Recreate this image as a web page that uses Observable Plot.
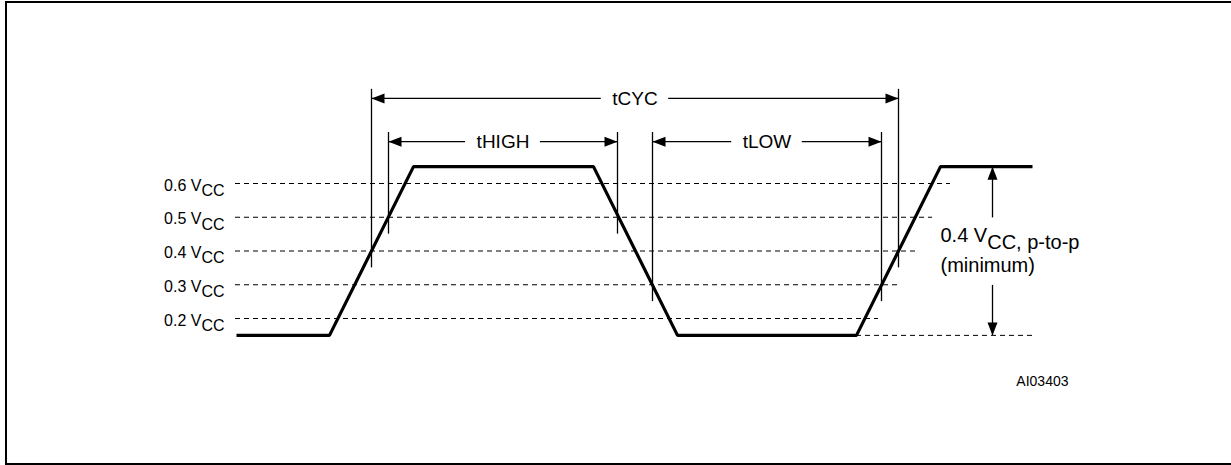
<!DOCTYPE html>
<html><head><meta charset="utf-8">
<script src="https://cdn.jsdelivr.net/npm/d3@7"></script>
<script src="https://cdn.jsdelivr.net/npm/@observablehq/plot@0.6"></script>
<style>
html,body{margin:0;padding:0;background:#fff;overflow:hidden;}
#wrap{position:relative;width:1231px;height:465px;overflow:hidden;}
#frame{position:absolute;left:5px;top:1px;width:1300px;height:460px;border:2px solid #000;}
#chart{position:absolute;left:0;top:0;}
text{font-family:"Liberation Sans",Arial,sans-serif;}
</style></head><body>
<div id="wrap"><div id="frame"></div><div id="chart"></div></div>
<script>
// ---- Data (time in drawing units, level as fraction of VCC) ----
const waveT = [236, 329, 413, 593, 677, 856, 940, 1032];
const waveV = [0.15, 0.15, 0.65, 0.65, 0.15, 0.15, 0.65, 0.65];

const levelV = [0.6, 0.5, 0.4, 0.3, 0.2];
const levelLabels = ["0.6 V|CC", "0.5 V|CC", "0.4 V|CC", "0.3 V|CC", "0.2 V|CC"];
const levelStartT = [235, 235, 235, 235, 235];
const levelEndT = [950, 932, 915, 897, 878];

const lowExtT = [856, 1032];
const lowV = 0.15;
const highV = 0.65;

const timingNames = ["tCYC", "tHIGH", "tLOW"];
const timingStartT = [371, 388, 652];
const timingEndT = [898, 617, 881];
const timingRefV = [0.4, 0.5, 0.3];
const timingRow = [0, 1, 1];

const swingLabel = "0.4 V|CC, p-to-p";
const swingNote = "(minimum)";
const figureId = "AI03403";

// ---- Layout (annotation placement) ----
const rowTopV = [0.879, 0.751];
const arrowDropV = 0.027;
const lineBelowV = 0.05;
const swingT = 992;
const swingGap = [0.498, 0.298];
const timingFontSize = 19;
const labelPad = 11;

const font = "Liberation Sans, Arial, sans-serif";
const measureCtx = document.createElement("canvas").getContext("2d");
measureCtx.font = `${timingFontSize}px "Liberation Sans", Arial, sans-serif`;

const levels = levelV.map((v, i) => ({v, label: levelLabels[i], t1: levelStartT[i], t2: levelEndT[i]}));
const wave = waveT.map((t, i) => ({t, v: waveV[i]}));
const timings = timingNames.map((name, i) => {
  const mid = (timingStartT[i] + timingEndT[i]) / 2;
  const half = measureCtx.measureText(name).width / 2 + labelPad;
  return {
    name, t1: timingStartT[i], t2: timingEndT[i], ref: timingRefV[i], mid,
    g1: mid - half, g2: mid + half,
    top: rowTopV[timingRow[i]], arrow: rowTopV[timingRow[i]] - arrowDropV
  };
});
const verticals = timings.flatMap(d => [{t: d.t1, v1: d.ref - lineBelowV, v2: d.top}, {t: d.t2, v1: d.ref - lineBelowV, v2: d.top}]);
const shafts = timings.flatMap(d => [{v: d.arrow, a: d.t1, b: d.g1}, {v: d.arrow, a: d.g2, b: d.t2}]);
const heads = timings.flatMap(d => [{t: d.t1, v: d.arrow, rot: 180}, {t: d.t2, v: d.arrow, rot: 0}]);
const swingShaft = [{v1: highV, v2: swingGap[0]}, {v1: swingGap[1], v2: lowV}];
const swingHeads = [{t: swingT, v: highV, rot: -90}, {t: swingT, v: lowV, rot: 90}];

const arrowHead = {
  draw(ctx) { ctx.moveTo(0, 0); ctx.lineTo(-13, -5); ctx.lineTo(-13, 5); ctx.closePath(); }
};

const plot = Plot.plot({
  width: 1231, height: 465,
  marginTop: 0, marginRight: 0, marginBottom: 0, marginLeft: 0,
  x: {domain: [0, 1231], range: [0, 1231], axis: null},
  y: {domain: [0, 1], range: [385.5, 48], axis: null},
  style: {fontFamily: font, background: "transparent"},
  marks: [
    Plot.ruleY(levels, {y: "v", x1: "t1", x2: "t2", stroke: "#000", strokeWidth: 1, strokeDasharray: "5,4"}),
    Plot.ruleY([lowV], {y: d => d, x1: lowExtT[0], x2: lowExtT[1], stroke: "#000", strokeWidth: 1, strokeDasharray: "5,4"}),
    Plot.line(wave, {x: "t", y: "v", stroke: "#000", strokeWidth: 3.2, strokeLinejoin: "miter", strokeLinecap: "butt"}),
    Plot.ruleX(verticals, {x: "t", y1: "v1", y2: "v2", stroke: "#000", strokeWidth: 1.3}),
    Plot.ruleY(shafts, {y: "v", x1: "a", x2: "b", stroke: "#000", strokeWidth: 1.3}),
    Plot.dot(heads, {x: "t", y: "v", rotate: "rot", symbol: arrowHead, fill: "#000", stroke: "none", r: 5}),
    Plot.text(timings, {x: "mid", y: "arrow", text: "name", fill: "#000", fontSize: timingFontSize, textAnchor: "middle"}),
    Plot.ruleX(swingShaft, {x: () => swingT, y1: "v1", y2: "v2", stroke: "#000", strokeWidth: 1.3}),
    Plot.dot(swingHeads, {x: "t", y: "v", rotate: "rot", symbol: arrowHead, fill: "#000", stroke: "none", r: 5}),
    Plot.text(levels, {x: "t1", y: "v", text: "label", textAnchor: "end", dx: -11, dy: 2, fontSize: 16, fill: "#000"}),
    Plot.text([swingLabel], {x: swingT, y: 0.445, text: d => d, textAnchor: "start", dx: -52, fontSize: 20, fill: "#000"}),
    Plot.text([swingNote], {x: swingT, y: 0.357, text: d => d, textAnchor: "start", dx: -52, fontSize: 20, fill: "#000"}),
    Plot.text([figureId], {x: 1068, y: 0.013, text: d => d, textAnchor: "end", fontSize: 14, fill: "#000"})
  ]
});

// subscript handling: text after "|" is lowered
plot.querySelectorAll("text").forEach(el => {
  const s = el.textContent;
  if (!s.includes("|")) return;
  const [a, b] = s.split("|");
  el.textContent = "";
  el.appendChild(document.createTextNode(a));
  const ts = document.createElementNS("http://www.w3.org/2000/svg", "tspan");
  ts.setAttribute("dy", "0.33em");
  ts.textContent = b;
  el.appendChild(ts);
});

document.getElementById("chart").appendChild(plot);
</script>
</body></html>
